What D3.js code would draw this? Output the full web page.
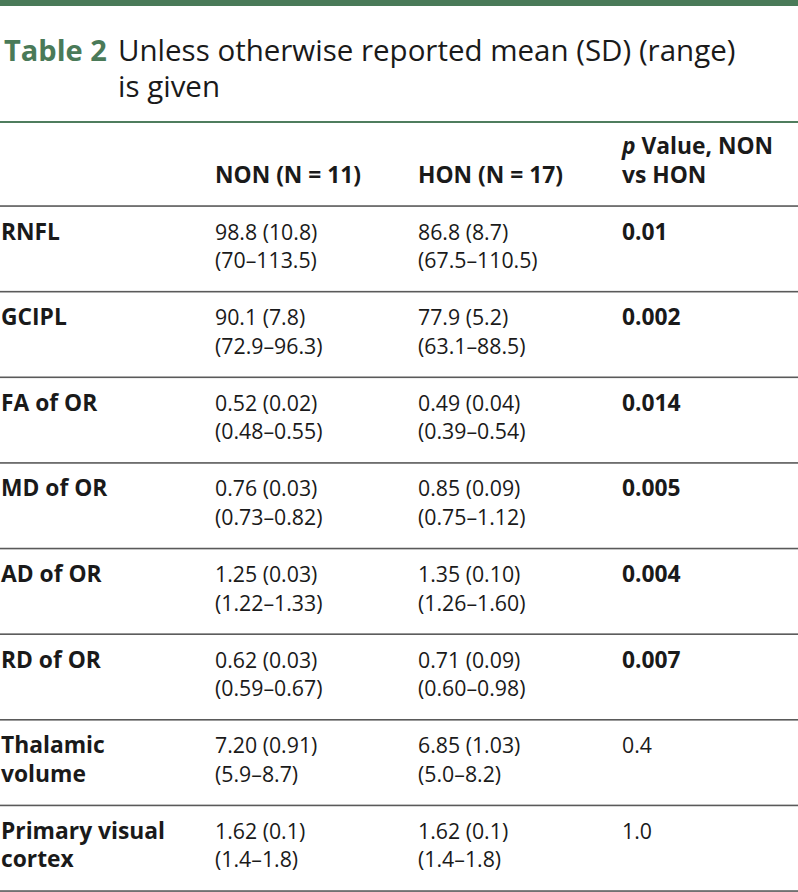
<!DOCTYPE html>
<html>
<head>
<meta charset="utf-8">
<script src="https://cdn.jsdelivr.net/npm/d3@7"></script>
<style>
  html, body { margin: 0; padding: 0; background: #fff; }
  svg { display: block; }
  text { font-family: "Open Sans", "Noto Sans", sans-serif; }
</style>
</head>
<body>
<svg id="chart" width="798" height="892"></svg>
<script>
// ---- data ----
const tableNumber = "Table 2";
const titleLines = ["Unless otherwise reported mean (SD) (range)", "is given"];
const columnHeaders = ["", "NON (N = 11)", "HON (N = 17)", "p Value, NON\nvs HON"];
const measures = ["RNFL", "GCIPL", "FA of OR", "MD of OR", "AD of OR", "RD of OR", "Thalamic\nvolume", "Primary visual\ncortex"];
const nonMeanSD = ["98.8 (10.8)", "90.1 (7.8)", "0.52 (0.02)", "0.76 (0.03)", "1.25 (0.03)", "0.62 (0.03)", "7.20 (0.91)", "1.62 (0.1)"];
const nonRange  = ["(70–113.5)", "(72.9–96.3)", "(0.48–0.55)", "(0.73–0.82)", "(1.22–1.33)", "(0.59–0.67)", "(5.9–8.7)", "(1.4–1.8)"];
const honMeanSD = ["86.8 (8.7)", "77.9 (5.2)", "0.49 (0.04)", "0.85 (0.09)", "1.35 (0.10)", "0.71 (0.09)", "6.85 (1.03)", "1.62 (0.1)"];
const honRange  = ["(67.5–110.5)", "(63.1–88.5)", "(0.39–0.54)", "(0.75–1.12)", "(1.26–1.60)", "(0.60–0.98)", "(5.0–8.2)", "(1.4–1.8)"];
const pValues   = ["0.01", "0.002", "0.014", "0.005", "0.004", "0.007", "0.4", "1.0"];
const significant = [true, true, true, true, true, true, false, false];

// ---- layout ----
const W = 798;
const green = "#4a7a58";
const ruleGray = "#5a5a5a";
const fsReg = 21.3;
const fsBold = 22.8;
const lineH = 28.5;

const svg = d3.select("#chart");

const x = d3.scaleOrdinal().domain([0, 1, 2, 3]).range([1, 215, 418, 622]);
const y = d3.scaleBand().domain(d3.range(measures.length)).range([206, 891]).paddingInner(0).paddingOuter(0);

// top green bar
svg.append("rect").attr("x", 0).attr("y", 0).attr("width", W).attr("height", 6).attr("fill", green);

// title
svg.append("text").attr("x", 4).attr("y", 61)
  .attr("font-size", 29).attr("font-weight", 700).attr("fill", green).text(tableNumber);
svg.append("text").attr("x", 118).attr("y", 61)
  .attr("font-size", 29.5).attr("fill", "#1a1a1a")
  .selectAll("tspan").data(titleLines).join("tspan")
  .attr("x", 118).attr("dy", (d, i) => i === 0 ? 0 : 35.5).text(d => d);

// line under title
svg.append("rect").attr("x", 0).attr("y", 121).attr("width", W).attr("height", 2).attr("fill", "#4f7d5e");

// header
const header = svg.append("g");
columnHeaders.forEach((h, ci) => {
  if (!h) return;
  const lines = h.split("\n");
  const t = header.append("text")
    .attr("x", x(ci)).attr("y", 183 - (lines.length - 1) * 29)
    .attr("font-size", fsBold).attr("font-weight", 700).attr("fill", "#1a1a1a");
  lines.forEach((ln, li) => {
    if (ln.startsWith("p ")) {
      t.append("tspan").attr("x", x(ci)).attr("dy", li === 0 ? 0 : 29).attr("font-style", "italic").text("p");
      t.append("tspan").text(ln.slice(1));
    } else {
      t.append("tspan").attr("x", x(ci)).attr("dy", li === 0 ? 0 : 29).text(ln);
    }
  });
});

// rules
const rules = [y(0)].concat(d3.range(measures.length).map(i => y(i) + y.bandwidth()));
svg.append("g").selectAll("rect").data(rules).join("rect")
  .attr("x", 0).attr("y", d => d - 0.75).attr("width", W).attr("height", 1.6).attr("fill", ruleGray);

// body
const rows = svg.append("g").selectAll("g").data(measures).join("g")
  .attr("transform", (d, i) => `translate(0,${y(i) + 33.5})`);

rows.each(function(m, i) {
  const g = d3.select(this);
  const cells = [
    { col: 0, lines: m.split("\n"), bold: true },
    { col: 1, lines: [nonMeanSD[i], nonRange[i]], bold: false },
    { col: 2, lines: [honMeanSD[i], honRange[i]], bold: false },
    { col: 3, lines: [pValues[i]], bold: significant[i] }
  ];
  cells.forEach(c => {
    g.append("text")
      .attr("x", x(c.col)).attr("y", 0)
      .attr("font-size", c.bold ? fsBold : fsReg).attr("font-weight", c.bold ? 700 : 400)
      .attr("fill", "#1a1a1a")
      .selectAll("tspan").data(c.lines).join("tspan")
      .attr("x", x(c.col)).attr("dy", (d, li) => li === 0 ? 0 : lineH).text(d => d);
  });
});
</script>
</body>
</html>
